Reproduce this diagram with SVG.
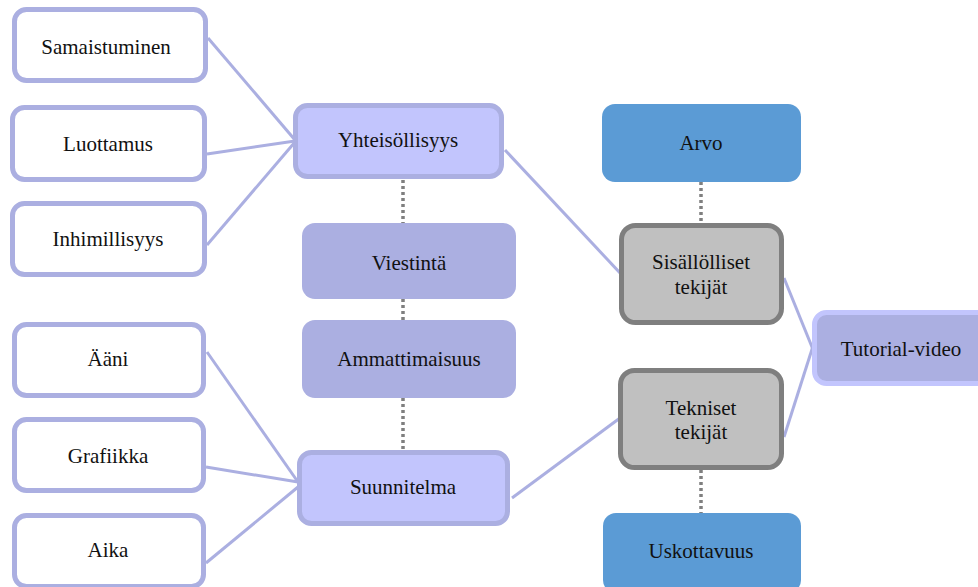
<svg xmlns="http://www.w3.org/2000/svg" width="978" height="587" viewBox="0 0 978 587">
<style>
text{font-size:21px;fill:#111;text-anchor:middle}
.leaf{fill:#fff;stroke:#abafe1;stroke-width:5}
.hub{fill:#c2c5fd;stroke:#abafe1;stroke-width:5}
.mid{fill:#abafe1}
.blue{fill:#5b9bd5}
.gray{fill:#c0c0c0;stroke:#7f7f7f;stroke-width:5}
.tut{fill:#abafe1;stroke:#c2c5fd;stroke-width:5}
.ln{stroke:#abafe1;stroke-width:3;fill:none}
.dot{stroke:#7f7f7f;stroke-width:3.5;stroke-dasharray:3,3;fill:none}
</style>
<rect width="978" height="587" fill="#fff"/>
<g id="connectors">
<line class="ln" x1="208" y1="38" x2="295" y2="140"/>
<line class="ln" x1="207" y1="154" x2="295" y2="141"/>
<line class="ln" x1="207" y1="245" x2="295" y2="142"/>
<line class="ln" x1="505" y1="150" x2="621" y2="274"/>
<line class="ln" x1="784" y1="278" x2="814" y2="352"/>
<line class="ln" x1="784" y1="437" x2="814" y2="343"/>
<line class="ln" x1="512" y1="498" x2="620" y2="418"/>
<line class="ln" x1="207" y1="352" x2="298" y2="482"/>
<line class="ln" x1="206" y1="467" x2="298" y2="482"/>
<line class="ln" x1="206" y1="563" x2="298" y2="487"/>
<line class="dot" x1="403" y1="180" x2="403" y2="223"/>
<line class="dot" x1="403" y1="299" x2="403" y2="320"/>
<line class="dot" x1="403" y1="398" x2="403" y2="450"/>
<line class="dot" x1="701" y1="182" x2="701" y2="224"/>
<line class="dot" x1="701" y1="470" x2="701" y2="513"/>
</g>
<g font-family="'Liberation Serif', 'DejaVu Serif', serif">
<g id="samaistuminen"><rect class="leaf" x="14.5" y="9.5" width="191" height="71" rx="12"/><text x="106" y="54">Samaistuminen</text></g>
<g id="luottamus"><rect class="leaf" x="12.5" y="107.5" width="192" height="72" rx="12"/><text x="108" y="151">Luottamus</text></g>
<g id="inhimillisyys"><rect class="leaf" x="12.5" y="203.5" width="192" height="71" rx="12"/><text x="108" y="246">Inhimillisyys</text></g>
<g id="aani"><rect class="leaf" x="14.5" y="324.5" width="189" height="71" rx="12"/><text x="108" y="366">Ääni</text></g>
<g id="grafiikka"><rect class="leaf" x="14.5" y="419.5" width="189" height="71" rx="12"/><text x="108" y="463">Grafiikka</text></g>
<g id="aika"><rect class="leaf" x="14.5" y="515.5" width="189" height="71" rx="12"/><text x="108" y="557">Aika</text></g>
<g id="yhteisollisyys"><rect class="hub" x="295.5" y="105.5" width="206" height="71" rx="12"/><text x="398" y="147">Yhteisöllisyys</text></g>
<g id="viestinta"><rect class="mid" x="302" y="223" width="214" height="76" rx="13"/><text x="409" y="270">Viestintä</text></g>
<g id="ammattimaisuus"><rect class="mid" x="302" y="320" width="214" height="78" rx="13"/><text x="409" y="366">Ammattimaisuus</text></g>
<g id="suunnitelma"><rect class="hub" x="299.5" y="452.5" width="208" height="71" rx="12"/><text x="403" y="494">Suunnitelma</text></g>
<g id="arvo"><rect class="blue" x="602" y="104" width="199" height="78" rx="13"/><text x="701" y="150">Arvo</text></g>
<g id="sisallolliset"><rect class="gray" x="621.5" y="225.5" width="160" height="97" rx="14"/><text x="701" y="269">Sisällölliset</text><text x="701" y="294">tekijät</text></g>
<g id="tekniset"><rect class="gray" x="620.5" y="370.5" width="161" height="97" rx="14"/><text x="701" y="415">Tekniset</text><text x="701" y="439">tekijät</text></g>
<g id="uskottavuus"><rect class="blue" x="603" y="513" width="198" height="80" rx="13"/><text x="701" y="558">Uskottavuus</text></g>
<g id="tutorial"><rect class="tut" x="814.5" y="312.5" width="180" height="71" rx="12"/><text x="901" y="356">Tutorial-video</text></g>
</g>
</svg>
